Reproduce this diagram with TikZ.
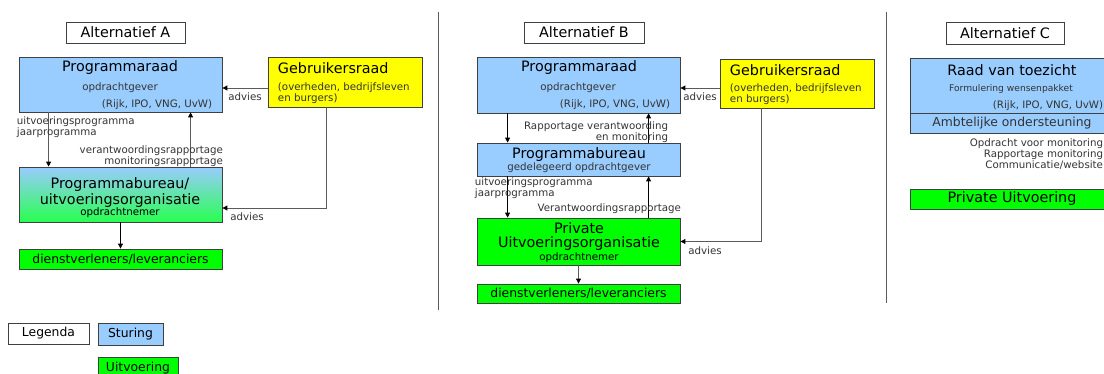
\documentclass[tikz,border=0pt]{standalone}
\usepackage{fontspec}
\setmainfont{DejaVu Sans}
\usetikzlibrary{arrows.meta, positioning, calc, fit}

\definecolor{sturingblauw}{HTML}{99CCFF}
\definecolor{uitvoergroen}{HTML}{00FF00}
\definecolor{raadgeel}{HTML}{FFFF00}
\definecolor{lijngrijs}{HTML}{5A5A5A}
\definecolor{tekstgrijs}{HTML}{333333}

\tikzset{
  kader/.style={draw=black!75, line width=0.6pt, inner sep=0pt},
  sturing/.style={kader, fill=sturingblauw},
  uitvoering/.style={kader, fill=uitvoergroen},
  gebruikers/.style={kader, fill=raadgeel},
  titel/.style={font=\fontsize{10.2}{9.6}\selectfont},
  middel/.style={font=\fontsize{8.8}{10}\selectfont},
  klein/.style={font=\fontsize{7.3}{7.8}\selectfont, text=tekstgrijs},
  pijl/.style={draw=lijngrijs, line width=0.6pt,
    -{Triangle[length=3.5pt, width=3.5pt, color=black]}},
}

\begin{document}
\begin{tikzpicture}[x=0.025cm, y=-0.025cm]
  \useasboundingbox (0,0) rectangle (1104,374);
  \clip (0,0) rectangle (1104,374);

  % scheidingslijnen tussen de alternatieven
  \draw[lijngrijs, line width=0.6pt] (438,12) -- (438,310);
  \draw[lijngrijs, line width=0.6pt] (886,12) -- (886,303);

  %% Alternatief A
  \node (titelA) [kader, fit={(66,22) (185,43)}] {};
  \node[titel] at (titelA) {Alternatief A};

  \node (praadA) [sturing, fit={(19,57) (222,112)}] {};
  \node[titel] at (120,68) {Programmaraad};
  \node[klein] at (120,88) {opdrachtgever};
  \node[klein, anchor=east] at (217,105) {(Rijk, IPO, VNG, UvW)};

  \node (gebrA) [gebruikers, fit={(268,57) (422,107)}] {};
  \node[titel, anchor=west] at (273,68) {Gebruikersraad};
  \node[klein, anchor=west, align=left] at (273,93.5) {(overheden, bedrijfsleven\\en burgers)};

  \node (burA) [kader, top color=sturingblauw, bottom color={rgb,255:red,40;green,255;blue,80},
    fit={(19,167) (222,222)}] {};
  \node[titel, align=center] at (120,192.5) {Programmabureau/\\uitvoeringsorganisatie};
  \node[klein, text=black] at (120,213) {opdrachtnemer};

  \node (levA) [uitvoering, fit={(19,249) (222,269)}] {};
  \node[middel] at (levA) {dienstverleners/leveranciers};

  \coordinate (adviesA) at ($(gebrA.west)+(0,6)$);
  \coordinate (adviesA2) at ($(burA.east)+(0,13.5)$);
  \draw[pijl] (adviesA) -- (adviesA -| praadA.east) node[klein, midway, below] {advies};
  \draw[pijl] ($(gebrA.south west)+(59,0)$) |- (adviesA2)
    node[klein, pos=1, anchor=north west, xshift=2pt] {advies};
  \draw[pijl] ($(praadA.south west)+(30,0)$) -- ($(burA.north west)+(30,0)$);
  \draw[pijl] ($(burA.north west)+(172,0)$) -- ($(praadA.south west)+(172,0)$);
  \draw[pijl, draw=black] (burA.south) -- (levA.north);

  \node[klein, anchor=west, align=left] at (12,127.5) {uitvoeringsprogramma\\jaarprogramma};
  \node[klein, anchor=east, align=right] at (228,156) {verantwoordingsrapportage\\monitoringsrapportage};

  %% Alternatief B
  \node (titelB) [kader, fit={(524,22) (644,43)}] {};
  \node[titel] at (titelB) {Alternatief B};

  \node (praadB) [sturing, fit={(477,57) (680,113)}] {};
  \node[titel] at (579,68) {Programmaraad};
  \node[klein] at (578,88) {opdrachtgever};
  \node[klein, anchor=east] at (675,105) {(Rijk, IPO, VNG, UvW)};

  \node (gebrB) [gebruikers, fit={(720,59) (874,108)}] {};
  \node[titel, anchor=west] at (725,70) {Gebruikersraad};
  \node[klein, anchor=west, align=left] at (725,94.5) {(overheden, bedrijfsleven\\en burgers)};

  \node (progB) [sturing, fit={(477,143) (680,176)}] {};
  \node[titel] at (579,155) {Programmabureau};
  \node[klein] at (579,168) {gedelegeerd opdrachtgever};

  \node (privB) [uitvoering, fit={(477,218) (680,265)}] {};
  \node[titel, align=center] at (579,236.5) {Private\\Uitvoeringsorganisatie};
  \node[klein, text=black] at (579,258) {opdrachtnemer};

  \node (levB) [uitvoering, fit={(477,284) (680,303)}] {};
  \node[middel] at (levB) {dienstverleners/leveranciers};

  \coordinate (adviesB) at ($(gebrB.west)+(0,4.5)$);
  \draw[pijl] (adviesB) -- (adviesB -| praadB.east) node[klein, midway, below] {advies};
  \draw[pijl] ($(gebrB.south west)+(42,0)$) |- (privB.east)
    node[klein, pos=1, anchor=north west, xshift=2pt] {advies};
  \draw[pijl, draw=black] ($(praadB.south west)+(31,0)$) -- ($(progB.north west)+(31,0)$);
  \draw[pijl, draw=black] ($(progB.north west)+(172,0)$) -- ($(praadB.south west)+(172,0)$);
  \draw[pijl, draw=black] ($(progB.south west)+(31,0)$) -- ($(privB.north west)+(31,0)$);
  \draw[pijl, draw=black] ($(privB.north west)+(172,0)$) -- ($(progB.south west)+(172,0)$);
  \draw[pijl] (privB.south) -- (levB.north);

  \node[klein, anchor=east, align=right] at (673,132.5) {Rapportage verantwoording\\en monitoring};
  \node[klein, anchor=west, align=left] at (470,188) {uitvoeringsprogramma\\jaarprogramma};
  \node[klein, anchor=east] at (686,209) {Verantwoordingsrapportage};

  %% Alternatief C
  \node (titelC) [kader, fit={(946,22) (1064,44)}] {};
  \node[titel] at (titelC) {Alternatief C};

  \node (raadC) [sturing, fit={(910,58) (1114,113)}] {};
  \node[titel] at (1012,70) {Raad van toezicht};
  \node[klein, font=\fontsize{6.5}{7}\selectfont] at (1011,89) {Formulering wensenpakket};
  \node[klein, anchor=east] at (1108,106) {(Rijk, IPO, VNG, UvW)};
  \node (ambtC) [sturing, fit={(910,113) (1114,133)}] {};
  \node[middel, text=tekstgrijs] at (ambtC) {Ambtelijke ondersteuning};

  \node[klein, anchor=east, align=right] at (1108,154) {Opdracht voor monitoring\\Rapportage monitoring\\Communicatie/website};

  \node (privC) [uitvoering, fit={(910,189) (1114,209)}] {};
  \node[titel] at (privC) {Private Uitvoering};

  %% legenda
  \node (legenda) [kader, fit={(8,323) (89,344)}] {};
  \node[middel] at (legenda) {Legenda};
  \node (sturingL) [sturing, fit={(98,323) (163,345)}] {};
  \node[middel] at (sturingL) {Sturing};
  \node (uitvoeringL) [uitvoering, fit={(98,357) (178,380)}] {};
  \node[middel] at (uitvoeringL) {Uitvoering};
\end{tikzpicture}
\end{document}
